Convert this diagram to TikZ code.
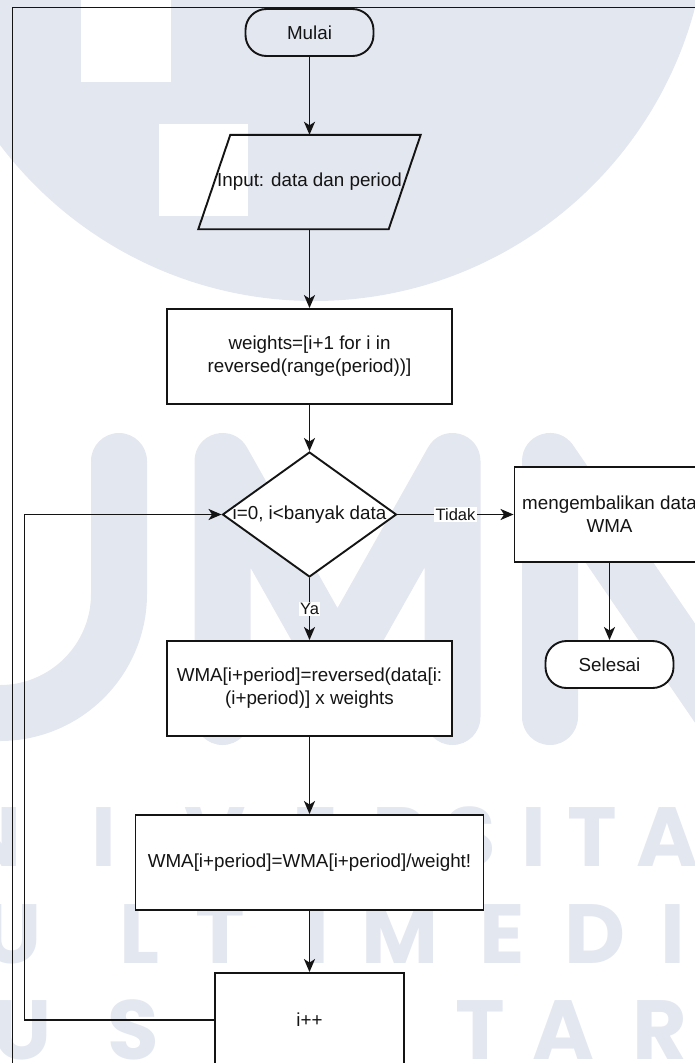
\documentclass[tikz,border=0pt]{standalone}
\usepackage{fontspec}
\setmainfont{Liberation Sans}
\newfontfamily\wmfont{Poppins}
\usetikzlibrary{shapes.geometric,arrows.meta}
\definecolor{wmgray}{RGB}{227,231,240}
\definecolor{ink}{RGB}{20,20,20}

\begin{document}
\begin{tikzpicture}[x=1pt,y=-1pt,
  edgeline/.style={draw=ink, line width=1.9pt},
  arrow/.style={edgeline, -{Stealth[length=13pt,width=11pt,inset=3.5pt]}},
  txt/.style={font=\fontsize{18.8}{23}\selectfont, text=ink, align=center, inner sep=0pt},
  procbox/.style={txt, rectangle, edgeline, fill=white},
  termbox/.style={txt, rectangle, edgeline, rounded corners=21pt},
  decision/.style={diamond, edgeline, fill=white, inner sep=0pt},
  lbl/.style={font=\fontsize{16.5}{20}\selectfont, text=ink, fill=white, inner sep=1.5pt},
  wmstroke/.style={draw=wmgray, line width=56pt, line cap=round, line join=round},
  wmletter/.style={font=\wmfont\bfseries\fontsize{84}{90}\selectfont, text=wmgray, anchor=base, inner sep=0pt},
]
\useasboundingbox (0,0) rectangle (695,1063);
\clip (0,0) rectangle (695,1063);

% background logo: globe with cut-out squares
\fill[wmgray] (314,-93) circle[radius=394pt];
\fill[white] (81,-5) rectangle (171,82);
\fill[white] (159,124) rectangle (248,216);

% background logo: U M N
\draw[wmstroke] (119,461) -- (119,594) arc[start angle=0, end angle=180, radius=119] -- (-119,461);
\draw[wmstroke] (222.5,717) -- (222.5,461) -- (337.5,665) -- (452.5,461) -- (452.5,717);
\draw[wmstroke] (550,717) -- (550,461) -- (725,717) -- (725,461);

% background lettering
\foreach \ch/\px [count=\k] in {N/-10, I/103.5, V/215, E/315, R/400, S/470, I/534, T/592, A/667}
  \node[wmletter] (wmrowa\k) at (\px,866) {\ch};
\foreach \ch/\px [count=\k] in {U/12, L/140, T/220, I/317, M/400, E/502, D/595, I/673}
  \node[wmletter] (wmrowb\k) at (\px,963) {\ch};
\foreach \ch/\px [count=\k] in {U/22, S/133, A/250, N/367, T/480, A/563, R/660}
  \node[wmletter] (wmrowc\k) at (\px,1059) {\ch};

% page frame
\draw[edgeline] (12.5,1075) -- (12.5,7.5) -- (705,7.5);

% flowchart nodes
\node[termbox, minimum width=128pt, minimum height=47pt] (mulai) at (309.5,32.5) {Mulai};
\node[txt, minimum width=190pt, minimum height=94pt] (input) at (309.5,182) {Input: data dan period};
\draw[edgeline] ([xshift=16pt]input.north west) -- ([xshift=16pt]input.north east)
  -- ([xshift=-16pt]input.south east) -- ([xshift=-16pt]input.south west) -- cycle;
\node[procbox, minimum width=285pt, minimum height=95pt] (weights) at (309.5,356.5)
  {weights=[i+1 for i in\\reversed(range(period))]};
\node[decision, minimum width=174pt, minimum height=125pt] (cond) at (309.5,514.5) {};
\node[txt] (condtext) at (cond.center) {i=0, i<banyak data};
\node[procbox, minimum width=190pt, minimum height=95pt] (ret) at (609.5,514.5) {mengembalikan data\\WMA};
\node[termbox, fill=white, minimum width=128pt, minimum height=47pt] (selesai) at (609.5,664.5) {Selesai};
\node[procbox, minimum width=285pt, minimum height=95pt] (rev) at (309.5,688.5)
  {WMA[i+period]=reversed(data[i:\\(i+period)] x weights};
\node[procbox, minimum width=348pt, minimum height=95pt] (norm) at (309.5,862.5)
  {WMA[i+period]=WMA[i+period]/weight!};
\node[procbox, minimum width=189pt, minimum height=94pt] (inc) at (309.5,1020) {i++};

% connectors
\draw[arrow] (mulai) -- (input);
\draw[arrow] (input) -- (weights);
\draw[arrow] (weights) -- (cond);
\draw[arrow] (cond) -- node[lbl] (tidak) {Tidak} (ret);
\draw[arrow] (cond) -- node[lbl] (ya) {Ya} (rev);
\draw[arrow] (rev) -- (norm);
\draw[arrow] (norm) -- (inc);
\draw[arrow] (ret) -- (selesai);
\coordinate (loopx) at (24.5,0);
\draw[arrow] (inc.west) -- (inc.west -| loopx) -- (cond.west -| loopx) -- (cond.west);
\end{tikzpicture}
\end{document}
